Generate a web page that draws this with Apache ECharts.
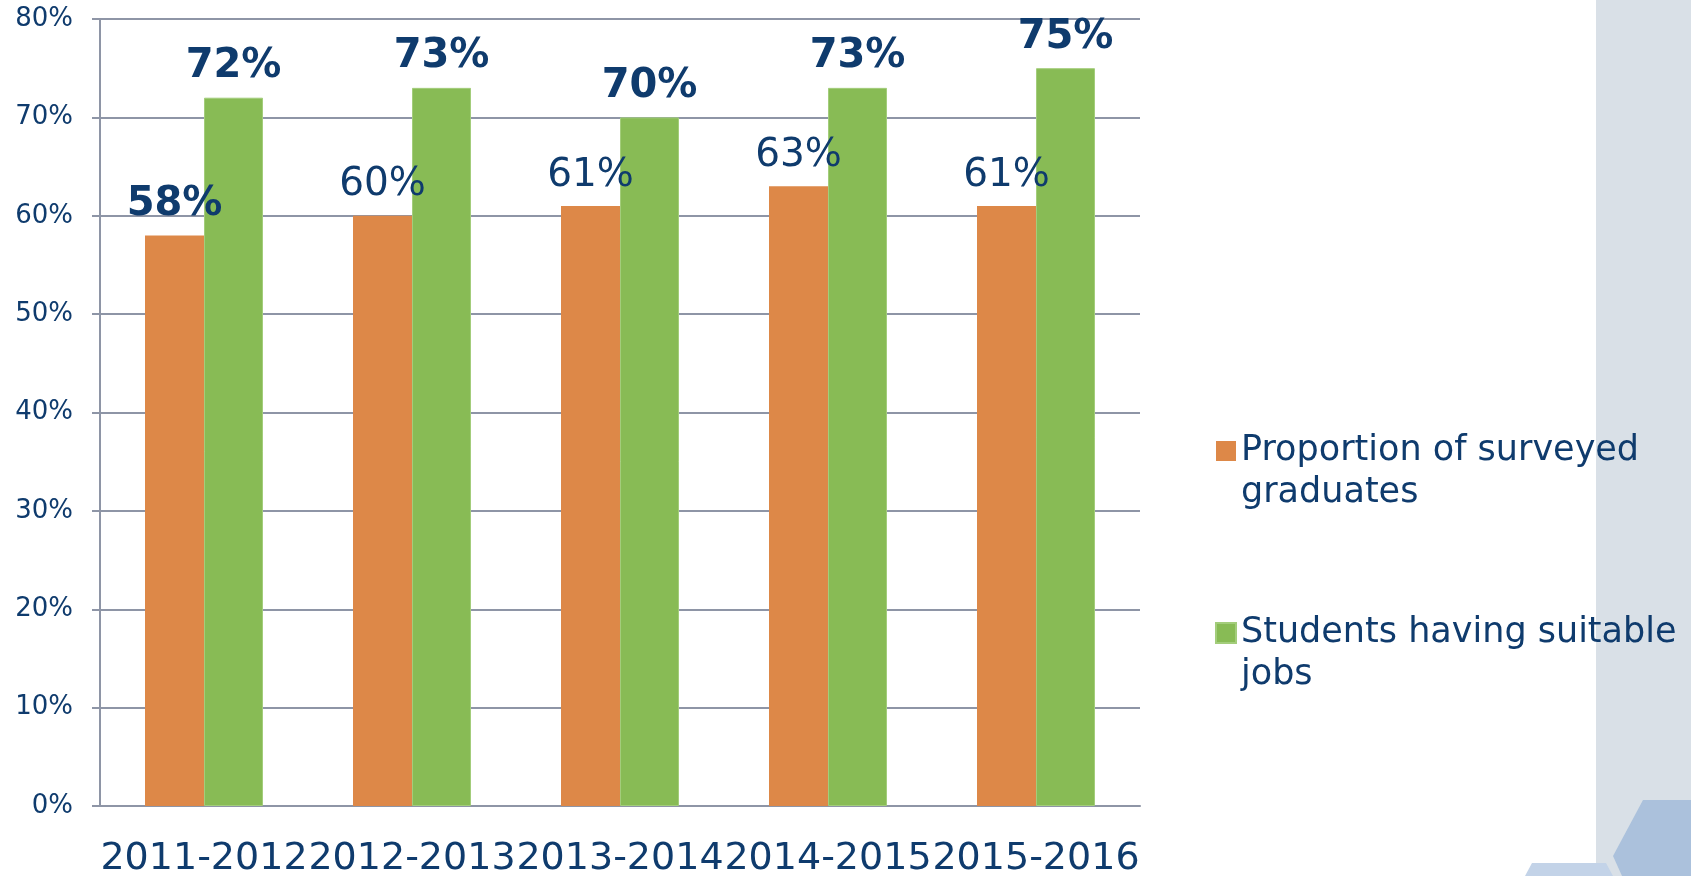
<!DOCTYPE html>
<html>
<head>
<meta charset="utf-8">
<script src="https://cdn.jsdelivr.net/npm/echarts@6/dist/echarts.min.js"></script>
<style>
  html, body { margin: 0; padding: 0; background: #fff; }
  #chart { width: 1691px; height: 876px; }
</style>
</head>
<body>
<div id="chart"></div>
<script>
const categories = ['2011-2012', '2012-2013', '2013-2014', '2014-2015', '2015-2016'];
const graduates = [58, 60, 61, 63, 61];
const suitableJobs = [72, 73, 70, 73, 75];
const seriesNames = ['Proportion of surveyed\ngraduates', 'Students having suitable\njobs'];

const textColor = '#0f3b6d';
const gridColor = '#8e95a6';
const font = 'DejaVu Sans';

const chart = echarts.init(document.getElementById('chart'));

const option = {
  backgroundColor: '#fff',
  animation: false,
  textStyle: { fontFamily: font },
  graphic: [
    // grey panel on the right
    { type: 'rect', z: -10, shape: { x: 1596, y: 0, width: 95, height: 876 }, style: { fill: '#d9e0e7' } },
    { type: 'polygon', z: -9, shape: { points: [[1532, 863], [1606, 863], [1613, 876], [1525, 876]] }, style: { fill: '#c3d3e8' } },
    { type: 'polygon', z: -9, shape: { points: [[1643, 800], [1691, 800], [1691, 876], [1622, 876], [1613, 856]] }, style: { fill: '#abc1dc' } }
  ],
  grid: { left: 100, right: 551, top: 19, bottom: 70, outerBoundsMode: 'none' },
  legend: {
    orient: 'vertical',
    left: 1215,
    top: 388,
    padding: 0,
    itemWidth: 20,
    itemHeight: 20,
    itemGap: 56,
    icon: 'rect',
    // leading blank line so the marker sits beside the first line of text
    formatter: name => '\n' + name,
    textStyle: {
      color: textColor,
      fontFamily: font,
      fontSize: 35,
      lineHeight: 42
    }
  },
  xAxis: {
    type: 'category',
    data: categories,
    axisLine: { lineStyle: { color: gridColor, width: 2 } },
    axisTick: { length: 11, lineStyle: { color: gridColor, width: 2 } },
    axisLabel: { interval: 0, color: textColor, fontSize: 38, margin: 34, fontFamily: font }
  },
  yAxis: {
    type: 'value',
    min: 0,
    max: 80,
    interval: 10,
    axisLine: { show: true, lineStyle: { color: gridColor, width: 2 } },
    axisTick: { show: true, length: 8, lineStyle: { color: gridColor, width: 2 } },
    splitLine: { lineStyle: { color: gridColor, width: 2 } },
    axisLabel: { color: textColor, fontSize: 26, margin: 27, formatter: '{value}%', fontFamily: font }
  },
  series: [
    {
      name: seriesNames[0],
      type: 'bar',
      barWidth: 59,
      barGap: 0,
      itemStyle: { color: '#dd8848' },
      label: {
        show: true, position: 'top', distance: 11,
        formatter: '{c}%', color: textColor, fontSize: 39, fontFamily: font
      },
      data: graduates.map((v, i) => i === 0 ? { value: v, label: { fontWeight: 'bold', fontSize: 40 } } : v)
    },
    {
      name: seriesNames[1],
      type: 'bar',
      barWidth: 59,
      barGap: 0,
      itemStyle: { color: '#88bb55', borderColor: '#a3cd7b', borderWidth: 1 },
      label: {
        show: true, position: 'top', distance: 11,
        formatter: '{c}%', color: textColor, fontSize: 40, fontWeight: 'bold', fontFamily: font
      },
      data: suitableJobs
    }
  ]
};

chart.setOption(option);
</script>
</body>
</html>
